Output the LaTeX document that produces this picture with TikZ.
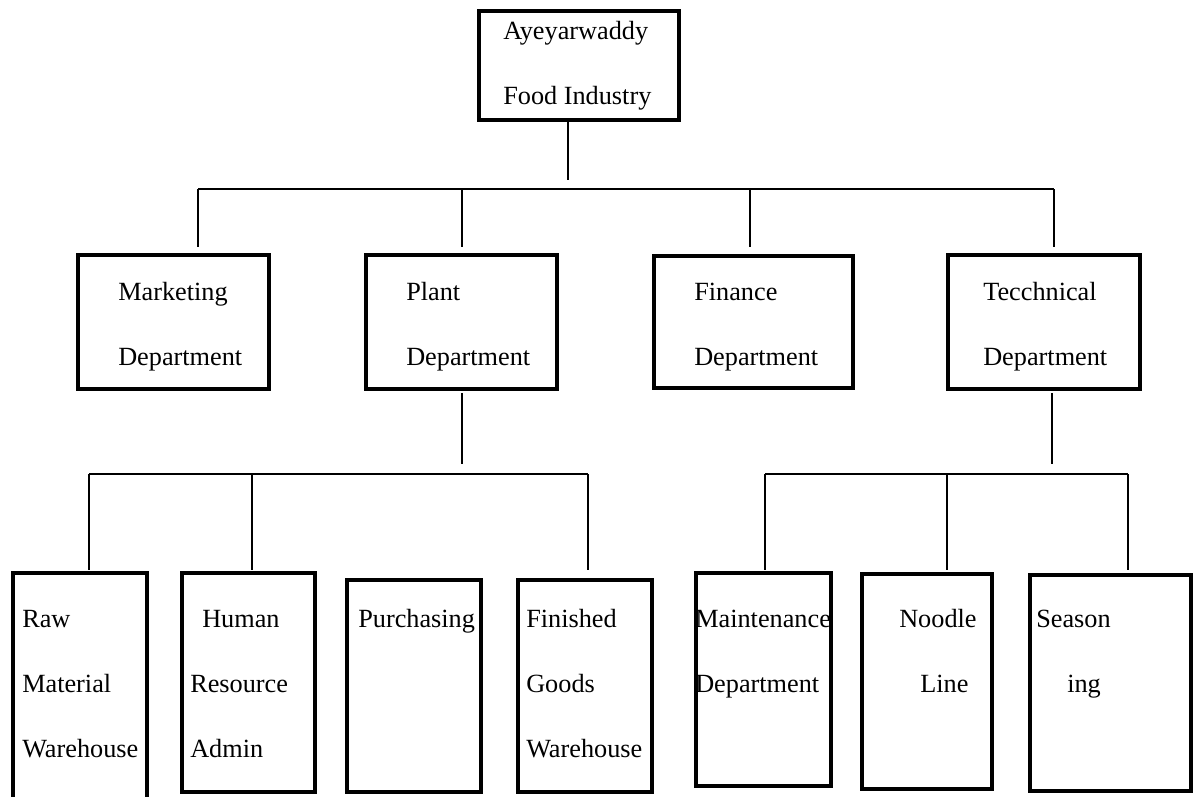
\documentclass[tikz,border=0pt]{standalone}
\usepackage{fontspec}
\setmainfont{Liberation Serif}
\usetikzlibrary{fit}
\begin{document}
\begin{tikzpicture}[x=0.75pt,y=-0.75pt,
  box/.style={draw=black,line width=3.6pt,fill=white,inner sep=0pt,rectangle},
  lbl/.style={anchor=base west,inner sep=0pt,font=\fontsize{19.7pt}{22pt}\selectfont},
  conn/.style={draw=black,line width=1.5pt}]
\useasboundingbox (0,0) rectangle (1195,796);
% boxes
\node[box,fit={(479,11)(679,120)}] (top) {};
\node[box,fit={(78,255)(269,389)}] (mkt) {};
\node[box,fit={(366,255)(557,389)}] (plant) {};
\node[box,fit={(654,256)(853,388)}] (fin) {};
\node[box,fit={(948,255)(1140,389)}] (tech) {};
\node[box,fit={(13,573)(147,800)}] (raw) {};
\node[box,fit={(182,573)(315,792)}] (hr) {};
\node[box,fit={(347,580)(481,792)}] (pur) {};
\node[box,fit={(518,580)(652,792)}] (fg) {};
\node[box,fit={(696,573)(831,786)}] (mnt) {};
\node[box,fit={(862,574)(992,789)}] (ndl) {};
\node[box,fit={(1030,575)(1191,791)}] (ssn) {};
% texts
\node[lbl] (t1) at (503,39) {Ayeyarwaddy};
\node[lbl] (t2) at (503,104) {Food Industry};
\node[lbl] (m1) at (118,300) {Marketing};
\node[lbl] (m2) at (118,365) {Department};
\node[lbl] (p1) at (406,300) {Plant};
\node[lbl] (p2) at (406,365) {Department};
\node[lbl] (f1) at (694,300) {Finance};
\node[lbl] (f2) at (694,365) {Department};
\node[lbl] (e1) at (983,300) {Tecchnical};
\node[lbl] (e2) at (983,365) {Department};
\node[lbl] (r1) at (22,627) {Raw};
\node[lbl] (r2) at (22,692) {Material};
\node[lbl] (r3) at (22,757) {Warehouse};
\node[lbl] (h1) at (202,627) {Human};
\node[lbl] (h2) at (190,692) {Resource};
\node[lbl] (h3) at (190,757) {Admin};
\node[lbl] (u1) at (358,627) {Purchasing};
\node[lbl] (g1) at (526,627) {Finished};
\node[lbl] (g2) at (526,692) {Goods};
\node[lbl] (g3) at (526,757) {Warehouse};
\node[lbl] (n1) at (695,627) {Maintenance};
\node[lbl] (n2) at (695,692) {Department};
\node[lbl] (d1) at (899,627) {Noodle};
\node[lbl] (d2) at (920,692) {Line};
\node[lbl] (s1) at (1036,627) {Season};
\node[lbl] (s2) at (1067,692) {ing};
% connector coordinates
\coordinate (topend) at (568,180);
\coordinate (b1l) at (198,189);
\coordinate (b1p) at (462,189);
\coordinate (b1f) at (750,189);
\coordinate (b1r) at (1054,189);
\coordinate (v1l) at (198,247);
\coordinate (v1p) at (462,247);
\coordinate (v1f) at (750,247);
\coordinate (v1r) at (1054,247);
\coordinate (pd0) at (462,393);
\coordinate (pd1) at (462,464);
\coordinate (b2l) at (89,474);
\coordinate (b2m) at (251.5,474);
\coordinate (b2r) at (588,474);
\coordinate (v2l) at (89,570);
\coordinate (v2m) at (251.5,570);
\coordinate (v2r) at (588,570);
\coordinate (td0) at (1052,393);
\coordinate (td1) at (1052,464);
\coordinate (b3l) at (765,474);
\coordinate (b3m) at (947,474);
\coordinate (b3r) at (1127.5,474);
\coordinate (v3l) at (765,570);
\coordinate (v3m) at (947,570);
\coordinate (v3r) at (1127.5,570);
% connectors
\draw[conn] (top.south -| topend) -- (topend);
\draw[conn] (b1l) -- (b1r);
\draw[conn] (b1l) -- (v1l);
\draw[conn] (b1p) -- (v1p);
\draw[conn] (b1f) -- (v1f);
\draw[conn] (b1r) -- (v1r);
\draw[conn] (pd0) -- (pd1);
\draw[conn] (b2l) -- (b2r);
\draw[conn] (b2l) -- (v2l);
\draw[conn] (b2m) -- (v2m);
\draw[conn] (b2r) -- (v2r);
\draw[conn] (td0) -- (td1);
\draw[conn] (b3l) -- (b3r);
\draw[conn] (b3l) -- (v3l);
\draw[conn] (b3m) -- (v3m);
\draw[conn] (b3r) -- (v3r);
\end{tikzpicture}
\end{document}
